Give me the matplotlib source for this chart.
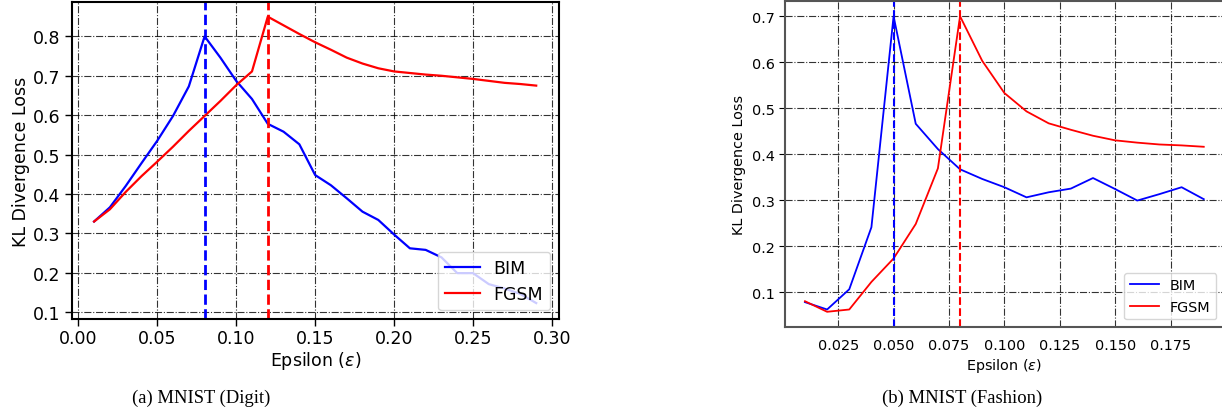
import matplotlib
matplotlib.use('Agg')
import matplotlib.pyplot as plt

# MNIST digit: KL divergence loss per epsilon
eps_digit = [0.01, 0.02, 0.03, 0.04, 0.05, 0.06, 0.07, 0.08, 0.09, 0.10,
             0.11, 0.12, 0.13, 0.14, 0.15, 0.16, 0.17, 0.18, 0.19, 0.20,
             0.21, 0.22, 0.23, 0.24, 0.25, 0.26, 0.27, 0.28, 0.29]
bim_digit = [0.330, 0.366, 0.420, 0.478, 0.535, 0.598, 0.673, 0.800, 0.746, 0.687,
             0.641, 0.578, 0.558, 0.526, 0.448, 0.422, 0.389, 0.355, 0.334, 0.297,
             0.262, 0.258, 0.239, 0.199, 0.199, 0.171, 0.160, 0.146, 0.123]
fgsm_digit = [0.330, 0.361, 0.405, 0.445, 0.482, 0.520, 0.560, 0.598, 0.636, 0.676,
              0.711, 0.850, 0.828, 0.806, 0.785, 0.766, 0.746, 0.731, 0.719, 0.711,
              0.707, 0.703, 0.700, 0.696, 0.692, 0.687, 0.682, 0.679, 0.675]
peak_digit = {'BIM': 0.08, 'FGSM': 0.12}

# MNIST fashion
eps_fashion = [0.01, 0.02, 0.03, 0.04, 0.05, 0.06, 0.07, 0.08, 0.09, 0.10,
               0.11, 0.12, 0.13, 0.14, 0.15, 0.16, 0.17, 0.18, 0.19]
bim_fashion = [0.078, 0.062, 0.106, 0.241, 0.700, 0.466, 0.411, 0.367, 0.346, 0.328,
               0.306, 0.317, 0.325, 0.348, 0.324, 0.299, 0.313, 0.328, 0.302]
fgsm_fashion = [0.080, 0.057, 0.062, 0.122, 0.173, 0.248, 0.369, 0.700, 0.603, 0.533,
                0.493, 0.467, 0.453, 0.440, 0.430, 0.425, 0.421, 0.419, 0.416]
peak_fashion = {'BIM': 0.05, 'FGSM': 0.08}

xticks_digit = [0.00, 0.05, 0.10, 0.15, 0.20, 0.25, 0.30]
yticks_digit = [0.1, 0.2, 0.3, 0.4, 0.5, 0.6, 0.7, 0.8]
xticks_fashion = [0.025, 0.050, 0.075, 0.100, 0.125, 0.150, 0.175]
yticks_fashion = [0.1, 0.2, 0.3, 0.4, 0.5, 0.6, 0.7]

fig = plt.figure(figsize=(12.22, 4.14), dpi=100)
ax1 = fig.add_axes([0.0589, 0.227, 0.3985, 0.766])
ax2 = fig.add_axes([0.6424, 0.2085, 0.359, 0.7865])

# left panel
fs1 = 12.5
ax1.plot(eps_digit, bim_digit, color='blue', lw=1.6, label='BIM')
ax1.plot(eps_digit, fgsm_digit, color='red', lw=1.6, label='FGSM')
ax1.axvline(peak_digit['BIM'], color='blue', ls='--', lw=2)
ax1.axvline(peak_digit['FGSM'], color='red', ls='--', lw=2)
ax1.set_xticks(xticks_digit)
ax1.set_yticks(yticks_digit)
ax1.set_xlim(-0.004, 0.3044)
ax1.set_ylim(0.0825, 0.8875)
ax1.grid(True, color='k', ls='-.', lw=0.8, alpha=0.8)
ax1.tick_params(labelsize=fs1, length=5, width=1)
ax1.tick_params(axis='x', pad=2.5)
for s in ax1.spines.values():
    s.set_color('black')
    s.set_linewidth(1.5)
ax1.set_xlabel(r'Epsilon ($\varepsilon$)', fontsize=fs1, labelpad=1)
ax1.set_ylabel('KL Divergence Loss', fontsize=fs1, labelpad=2)
ax1.legend(loc='lower right', fontsize=fs1, handlelength=2.0)

# right panel
fs2 = 10.4
ax2.plot(eps_fashion, bim_fashion, color='blue', lw=1.3, label='BIM')
ax2.plot(eps_fashion, fgsm_fashion, color='red', lw=1.3, label='FGSM')
ax2.axvline(peak_fashion['BIM'], color='blue', ls='--', lw=1.5)
ax2.axvline(peak_fashion['FGSM'], color='red', ls='--', lw=1.5)
ax2.set_xticks(xticks_fashion)
ax2.set_yticks(yticks_fashion)
ax2.set_xlim(0.001, 0.199)
ax2.set_ylim(0.0246, 0.733)
ax2.grid(True, color='k', ls='-.', lw=0.8, alpha=0.8)
ax2.tick_params(axis='y', labelsize=fs2, length=4)
ax2.tick_params(axis='x', labelsize=fs2, length=0, pad=8)
for s in ax2.spines.values():
    s.set_color('#555555')
    s.set_linewidth(1.5)
ax2.set_xlabel(r'Epsilon ($\varepsilon$)', fontsize=fs2, labelpad=3)
ax2.set_ylabel('KL Divergence Loss', fontsize=fs2)
ax2.legend(loc='lower right', fontsize=fs2, handlelength=2.0)

# captions
fig.text(201 / 1222, 1 - 398 / 414, '(a) MNIST (Digit)', ha='center', va='center',
         family='Liberation Serif', fontsize=13.4)
fig.text(962 / 1222, 1 - 398 / 414, '(b) MNIST (Fashion)', ha='center', va='center',
         family='Liberation Serif', fontsize=13.4)

fig.savefig('out.png', dpi=100)
